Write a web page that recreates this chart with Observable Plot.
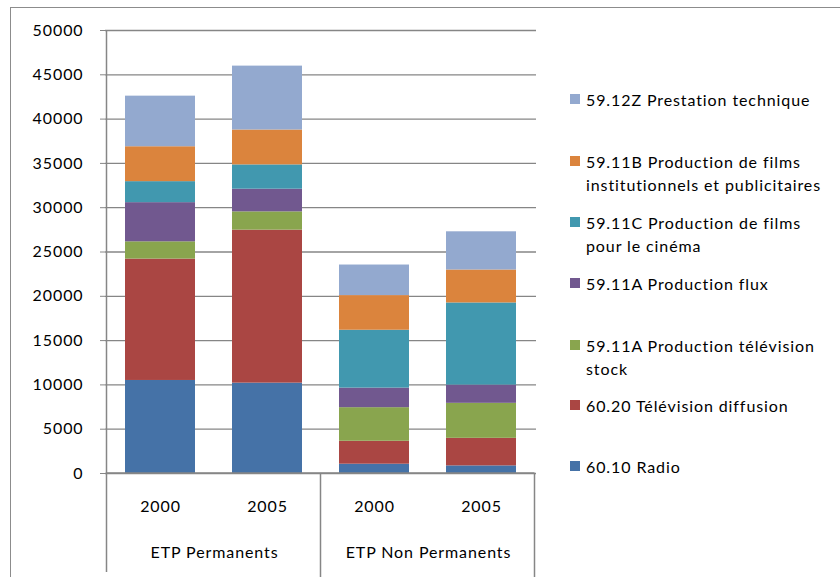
<!DOCTYPE html>
<html><head><meta charset="utf-8">
<script src="https://cdn.jsdelivr.net/npm/d3@7"></script>
<script src="https://cdn.jsdelivr.net/npm/@observablehq/plot@0.6"></script>
<style>
body{margin:0;background:#fff;font-family:Lato,"Open Sans",sans-serif;}
#wrap{position:relative;width:840px;height:577px;overflow:hidden;background:#fff;}
#frame{position:absolute;left:10px;top:7px;width:840px;height:600px;border:1px solid #8c8c8c;box-sizing:border-box;}
#chart{position:absolute;left:0;top:0;}
#chart svg text{letter-spacing:0.9px;}
#legend{position:absolute;left:570px;top:0;width:270px;height:577px;}
.item{position:absolute;left:0;display:flex;align-items:flex-start;font-size:16px;letter-spacing:0.9px;color:#000;line-height:23px;width:270px;white-space:nowrap;}
.sw{width:10px;height:10px;margin-top:6px;margin-right:6px;flex:none;}
</style></head><body>
<div id="wrap"><div id="frame"></div><div id="chart"></div><div id="legend"></div></div>
<script>
// ---- data ----
const groups = ["ETP Permanents", "ETP Permanents", "ETP Non Permanents", "ETP Non Permanents"];
const years = ["2000", "2005", "2000", "2005"];
const seriesNames = [
  "60.10 Radio",
  "60.20 Télévision diffusion",
  "59.11A Production télévision stock",
  "59.11A Production flux",
  "59.11C Production de films pour le cinéma",
  "59.11B Production de films institutionnels et publicitaires",
  "59.12Z Prestation technique"
];
const radio       = [10500, 10200, 1050, 860];
const tvDiffusion = [13700, 17270, 2590, 3110];
const tvStock     = [1950, 2060, 3790, 3950];
const flux        = [4420, 2560, 2210, 2060];
const cinema      = [2370, 2740, 6530, 9270];
const pub         = [3940, 3940, 3910, 3720];
const prestation  = [5710, 7210, 3450, 4310];
const seriesValues = [radio, tvDiffusion, tvStock, flux, cinema, pub, prestation];
const colors = ["#4572A7", "#AA4643", "#89A54E", "#71588F", "#4198AF", "#DB843D", "#93A9CF"];
const yTicks = [0, 5000, 10000, 15000, 20000, 25000, 30000, 35000, 40000, 45000, 50000];
// legend lines (display wrapping)
const legendLines = [
  ["60.10 Radio"],
  ["60.20 Télévision diffusion"],
  ["59.11A Production télévision", "stock"],
  ["59.11A Production flux"],
  ["59.11C Production de films", "pour le cinéma"],
  ["59.11B Production de films", "institutionnels et publicitaires"],
  ["59.12Z Prestation technique"]
];
const legendTops = [455, 394, 334, 272, 211, 150, 88];

// ---- build table ----
const keys = groups.map((g, i) => g + "|" + years[i]);
const rows = [];
seriesNames.forEach((s, si) => {
  keys.forEach((k, i) => rows.push({key: k, group: groups[i], year: years[i], series: s, value: seriesValues[si][i]}));
});
const groupStarts = keys.filter((k, i) => i === 0 || groups[i] !== groups[i - 1]);
const groupLabels = groupStarts.map(k => ({key: k, label: k.split("|")[0]}));

const plot = Plot.plot({
  width: 540,
  height: 577,
  marginLeft: 105,
  marginRight: 4,
  marginTop: 30,
  marginBottom: 104,
  style: {fontFamily: "Lato, 'Open Sans', sans-serif", fontSize: "16px", color: "#000", background: "transparent"},
  x: {domain: keys, paddingInner: 0.35, paddingOuter: 0.175, axis: null, label: null},
  y: {domain: [0, 50000], axis: null, label: null},
  color: {domain: seriesNames, range: colors},
  marks: [
    Plot.gridY(yTicks, {stroke: "#868686", strokeOpacity: 1, strokeWidth: 1.3}),
    Plot.barY(rows, {x: "key", y: "value", fill: "series", order: null}),
    Plot.axisY(yTicks, {tickSize: 5, tickPadding: 17, stroke: "#868686", tickFormat: d => String(d), fontSize: 16, label: null}),
    Plot.axisX(keys, {tickSize: 0, tickPadding: 27, tickFormat: k => k.split("|")[1], fontSize: 16, label: null}),
    Plot.text(groupLabels, {x: "key", text: "label", frameAnchor: "bottom", dy: 84, dx: 54, fontSize: 16})
  ]
});
document.getElementById("chart").appendChild(plot);

// category table lines derived from the scales
const xs = plot.scale("x"), ys = plot.scale("y");
const gap = xs.step - xs.bandwidth;
const y0 = ys.apply(0), yTop = ys.apply(50000);
const svg = d3.select(plot);
const left = xs.apply(keys[0]) - gap / 2;
const right = xs.apply(keys[keys.length - 1]) + xs.bandwidth + gap / 2;
const lineG = svg.append("g").attr("stroke", "#868686").attr("stroke-width", 1.5);
lineG.append("line").attr("x1", left).attr("x2", left).attr("y1", yTop).attr("y2", 572);
lineG.append("line").attr("x1", left).attr("x2", right).attr("y1", y0).attr("y2", y0);
groupStarts.slice(1).forEach(k => {
  const x = xs.apply(k) - gap / 2;
  lineG.append("line").attr("x1", x).attr("x2", x).attr("y1", y0).attr("y2", 577);
});
lineG.append("line").attr("x1", right).attr("x2", right).attr("y1", y0).attr("y2", 577);

// legend
const leg = document.getElementById("legend");
seriesNames.forEach((s, i) => {
  const it = document.createElement("div");
  it.className = "item";
  it.style.top = legendTops[i] + "px";
  const sw = document.createElement("div");
  sw.className = "sw";
  sw.style.background = colors[i];
  const tx = document.createElement("div");
  tx.innerHTML = legendLines[i].join("<br>");
  it.appendChild(sw); it.appendChild(tx);
  leg.appendChild(it);
});
</script>
</body></html>
